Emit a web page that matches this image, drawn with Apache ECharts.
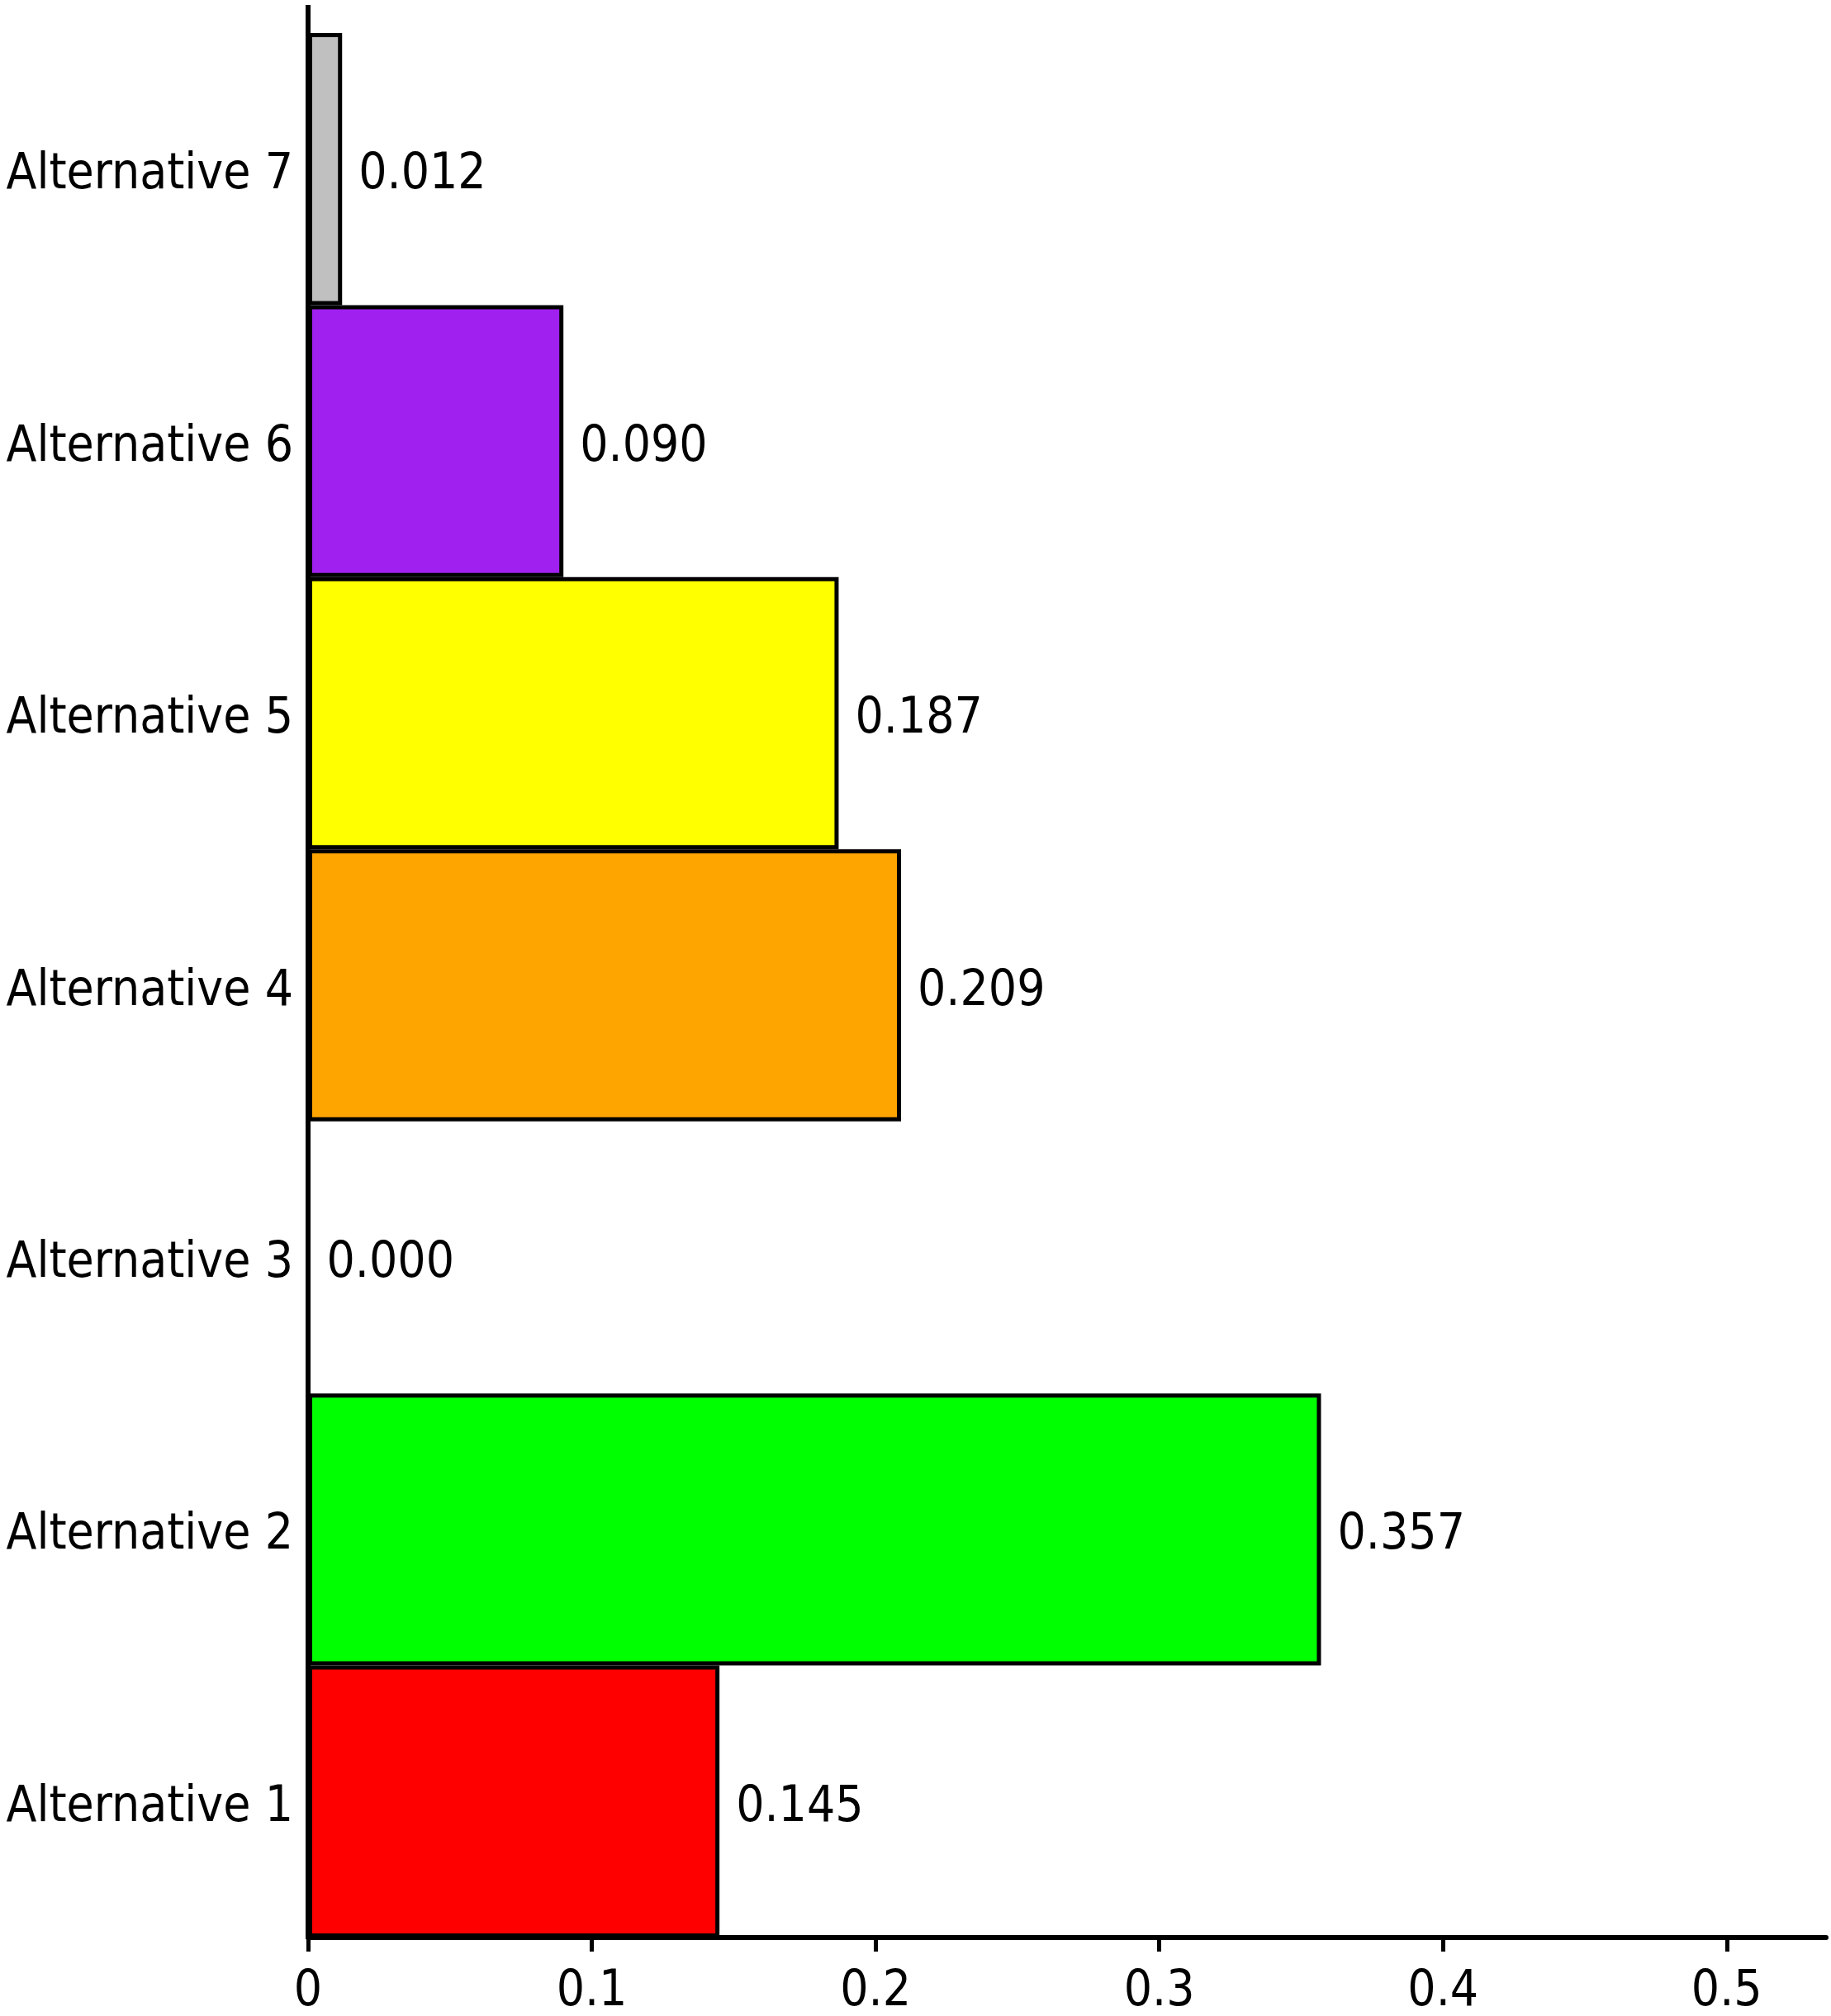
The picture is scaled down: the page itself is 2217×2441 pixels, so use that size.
<!DOCTYPE html>
<html>
<head>
<meta charset="utf-8">
<script src="https://cdn.jsdelivr.net/npm/echarts@6/dist/echarts.min.js"></script>
<style>
	html, body { margin: 0; padding: 0; background: #fff; }
	#chart { width: 2217px; height: 2441px; }
</style>
</head>
<body>
<div id="chart"></div>
<script>
const alternatives = ['Alternative 1', 'Alternative 2', 'Alternative 3', 'Alternative 4',
	'Alternative 5', 'Alternative 6', 'Alternative 7'];
const scores = [0.145, 0.357, 0.000, 0.209, 0.187, 0.090, 0.012];
const colors = ['#ff0000', '#00ff00', '#0000ff', '#ffa500', '#ffff00', '#a020f0', '#c0c0c0'];
const xTicks = [0, 0.1, 0.2, 0.3, 0.4, 0.5];

const font = "'DejaVu Sans Condensed', 'Liberation Sans Narrow', 'DejaVu Sans', sans-serif";
const fontSize = 60;

const chart = echarts.init(document.getElementById('chart'));

chart.setOption({
	animation: false,
	backgroundColor: '#ffffff',
	grid: {left: 373, right: 6, top: 40, bottom: 95, containLabel: false, outerBoundsMode: 'none'},
	xAxis: {
		type: 'value',
		min: 0,
		max: 0.535,
		interval: 0.1,
		splitLine: {show: false},
		axisLine: {show: true, lineStyle: {color: '#000', width: 6}},
		axisTick: {show: true, length: 17, customValues: xTicks, lineStyle: {color: '#000', width: 5}},
		axisLabel: {
			customValues: xTicks,
			margin: 36,
			color: '#000',
			fontFamily: font,
			fontSize,
			formatter: v => String(+v.toFixed(1))
		}
	},
	yAxis: {
		type: 'category',
		data: alternatives,
		axisLine: {show: true, lineStyle: {color: '#000', width: 6}},
		axisTick: {show: false},
		axisLabel: {
			margin: 18,
			formatter: v => '{t|' + v + '}',
			rich: {t: {color: '#000', fontFamily: font, fontSize, padding: [16, 0, 0, 0]}}
		}
	},
	series: [{
		type: 'bar',
		barCategoryGap: '0%',
		data: scores.map((v, i) => ({value: v, itemStyle: {color: colors[i]}})),
		itemStyle: {borderColor: '#000', borderWidth: 5},
		label: {
			show: true,
			position: 'right',
			distance: 20,
			offset: [0, 8],
			color: '#000',
			fontFamily: font,
			fontSize,
			formatter: p => p.value.toFixed(3)
		}
	}]
});

// the y axis line runs a little above the top bar
const x0 = chart.convertToPixel({xAxisIndex: 0}, 0);
chart.setOption({
	graphic: [{
		type: 'line',
		shape: {x1: x0, y1: 6, x2: x0, y2: 42},
		style: {stroke: '#000', lineWidth: 6}
	}]
});
</script>
</body>
</html>
